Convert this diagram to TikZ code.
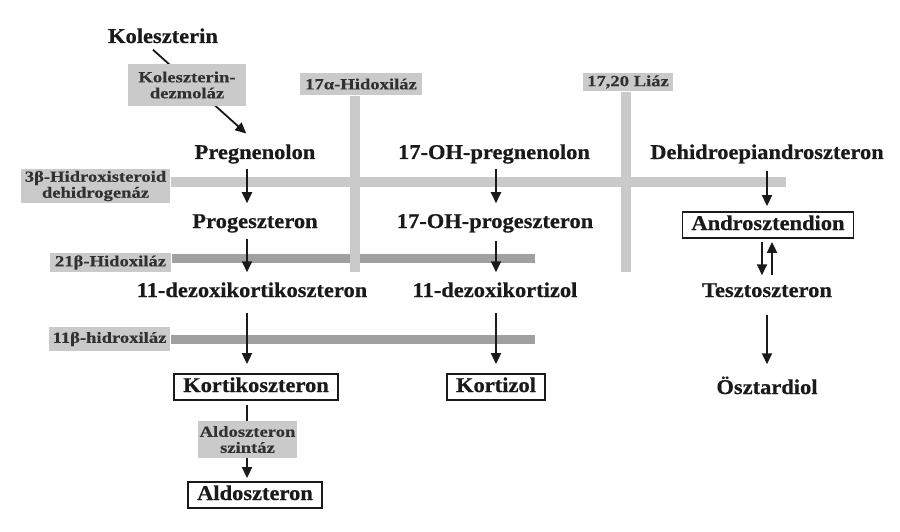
\documentclass[tikz,border=0pt]{standalone}
\usepackage{fontspec}
\setmainfont{Liberation Serif}
\newfontfamily\cmpdfont{Liberation Serif}[FakeStretch=1.07, FakeBold=0.6]
\newfontfamily\enzfont{Liberation Serif}[FakeStretch=1.2, FakeBold=0.4]
\usetikzlibrary{arrows.meta, positioning, backgrounds}
\definecolor{clight}{HTML}{CACACA}
\definecolor{cdark}{HTML}{A0A0A0}
\definecolor{ctext}{HTML}{1A1A1A}
\tikzset{
  every picture/.style={line width=1.5pt},
  cmpd/.style={font=\cmpdfont\bfseries\fontsize{21}{23}\selectfont, text=ctext, inner sep=2pt, text height=14pt, text depth=4pt},
  endbox/.style={cmpd, draw=ctext, line width=1.8pt, inner xsep=9pt, inner ysep=4pt},
  enzyme/.style={fill=clight, font=\enzfont\bfseries\fontsize{15.5}{16}\selectfont, text=ctext!90, align=center, inner sep=2pt},
  flow/.style={-{Triangle[length=11pt, width=10pt]}, draw=ctext, line width=1.8pt},
  lightbar/.style={draw=clight, line width=10pt},
  darkbar/.style={draw=cdark, line width=9pt},
}

\begin{document}
\begin{tikzpicture}[x=1pt, y=-1pt]
  \useasboundingbox (0,0) rectangle (900,532);
  % compounds
  \node[cmpd] (kol) at (163,38) {Koleszterin};
  \node[cmpd] (preg) at (255,154) {Pregnenolon};
  \node[cmpd] (prog) at (255,223) {Progeszteron};
  \node[cmpd] (doc) at (252,292) {11-dezoxikortikoszteron};
  \node[endbox] (cort) at (256,387) {Kortikoszteron};
  \node[endbox] (aldo) at (255,495) {Aldoszteron};
  \node[cmpd] (ohpreg) at (494,154) {17-OH-pregnenolon};
  \node[cmpd] (ohprog) at (495,223) {17-OH-progeszteron};
  \node[cmpd] (dcortisol) at (495,292) {11-dezoxikortizol};
  \node[endbox] (cortisol) at (496,387) {Kortizol};
  \node[cmpd] (dhea) at (767,154) {Dehidroepiandroszteron};
  \node[endbox] (andro) at (768,225) {Androsztendion};
  \node[cmpd] (testo) at (767,292) {Tesztoszteron};
  \node[cmpd] (estra) at (767,389) {Ösztardiol};

  % arrows
  \draw[flow, shorten >=1pt] ([xshift=-10pt]kol.south) -- ([xshift=-8pt, yshift=8pt]preg.north);
  \draw[flow, shorten <=3pt, shorten >=8pt] ([xshift=-8pt]preg.south) -- ([xshift=-8pt]prog.north);
  \draw[flow, shorten <=4pt, shorten >=8pt] ([xshift=-8pt]prog.south) -- ([xshift=-8pt]prog.south |- doc.north);
  \draw[flow, shorten <=9pt, shorten >=9pt] ([xshift=-8pt]prog.south |- doc.south) -- ([xshift=-8pt]prog.south |- cort.north);
  \draw[flow, shorten <=4pt, shorten >=3pt] ([xshift=-8pt]prog.south |- cort.south) -- ([xshift=-8pt]prog.south |- aldo.north);
  \draw[flow, shorten <=3pt, shorten >=8pt] ([xshift=2pt]ohpreg.south) -- ([xshift=1pt]ohprog.north);
  \draw[flow, shorten <=6pt, shorten >=8pt] ([xshift=1pt]ohprog.south) -- ([xshift=1pt]ohprog.south |- dcortisol.north);
  \draw[flow, shorten <=9pt, shorten >=9pt] ([xshift=1pt]dcortisol.south) -- (cortisol.north);
  \draw[flow, shorten <=5pt, shorten >=5pt] (dhea.south) -- (dhea.south |- andro.north);
  \draw[flow, shorten <=3pt, shorten >=5pt] ([xshift=-6pt]andro.south) -- ([xshift=-6pt]andro.south |- testo.north);
  \draw[flow, shorten <=5pt, shorten >=3pt] ([xshift=4pt]andro.south |- testo.north) -- ([xshift=4pt]andro.south);
  \draw[flow, shorten <=11pt, shorten >=13pt] (testo.south) -- (testo.south |- estra.north);

  % enzymes
  \node[enzyme, minimum width=118pt, minimum height=42pt] (desmo) at (187,85) {Koleszterin-\\dezmoláz};
  \node[enzyme, minimum width=122pt, minimum height=22pt] (hyd17) at (361,84) {17α-Hidoxiláz};
  \node[enzyme, minimum width=90pt, minimum height=18pt] (lyase) at (628,82) {17,20 Liáz};
  \node[enzyme, minimum width=149pt, minimum height=34pt] (hsd) at (95.5,186) {3β-Hidroxisteroid\\dehidrogenáz};
  \node[enzyme, minimum width=121pt, minimum height=19pt] (hyd21) at (110.5,262.5) {21β-Hidoxiláz};
  \node[enzyme, minimum width=121pt, minimum height=24pt] (hyd11) at (109.5,339) {11β-hidroxiláz};
  \node[enzyme, minimum width=99pt, minimum height=37pt] (aldosyn) at (247.5,439.5) {Aldoszteron\\szintáz};

  % bars
  \coordinate (hsdend) at (786,182);
  \coordinate (hyd21end) at (535,258.5);
  \coordinate (hyd11end) at (535,339);
  \coordinate (hyd17end) at (355,272);
  \coordinate (lyaseend) at (626,272);
  \begin{pgfonlayer}{background}
    \draw[lightbar] (hsd.east |- hsdend) -- (hsdend);
    \draw[darkbar] (hyd21.east |- hyd21end) -- (hyd21end);
    \draw[darkbar] (hyd11.east |- hyd11end) -- (hyd11end);
    \draw[lightbar] (hyd17.south -| hyd17end) -- (hyd17end);
    \draw[lightbar] (lyase.south -| lyaseend) -- (lyaseend);
  \end{pgfonlayer}
\end{tikzpicture}
\end{document}
